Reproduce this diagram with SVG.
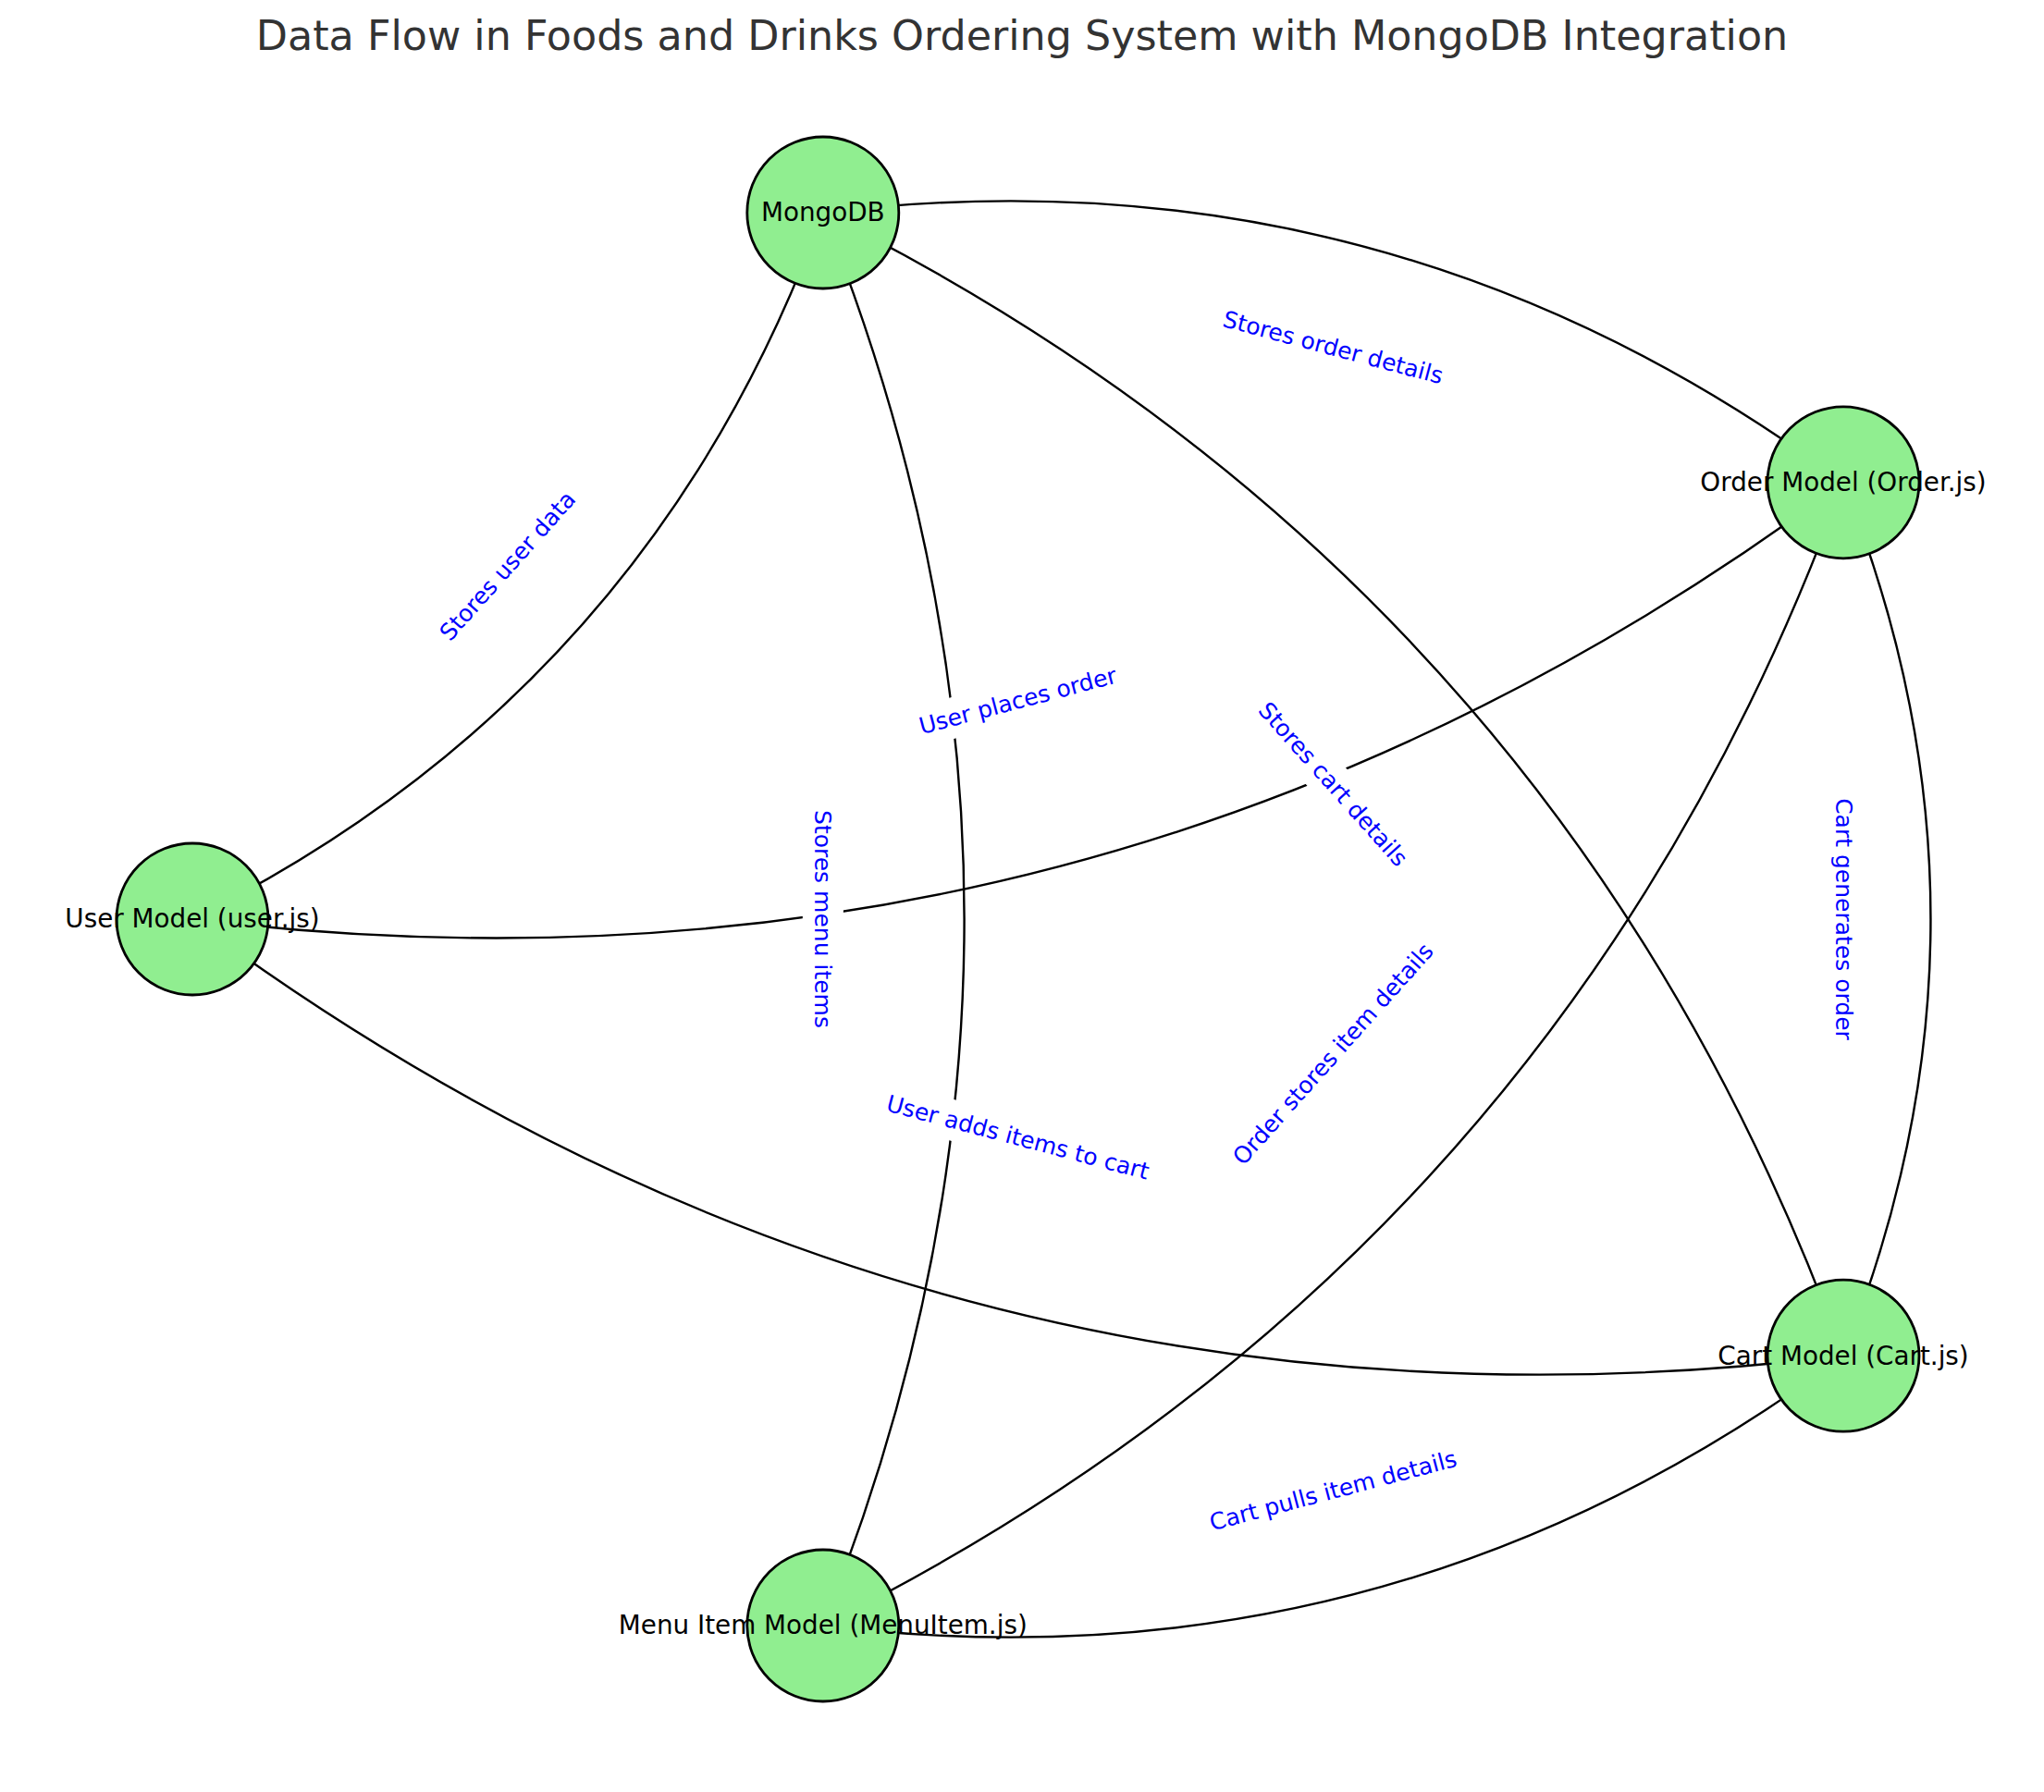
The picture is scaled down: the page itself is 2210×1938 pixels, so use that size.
<svg xmlns="http://www.w3.org/2000/svg" width="2210" height="1938" viewBox="0 0 2210 1938">
<style>
  .title { font-family: "DejaVu Sans", "Liberation Sans", sans-serif; font-size: 44.4px; fill: #333333; text-anchor: middle; }
  .edge { fill: none; stroke: #000000; stroke-width: 2.4; }
  .node circle { fill: #90EE90; stroke: #000000; stroke-width: 2.8; }
  .node text { font-family: "DejaVu Sans", "Liberation Sans", sans-serif; font-size: 27.8px; fill: #000000; text-anchor: middle; }
  .elabel rect { fill: #ffffff; stroke: #ffffff; stroke-width: 1; }
  .elabel text { font-family: "DejaVu Sans", "Liberation Sans", sans-serif; font-size: 25px; fill: #0000ff; text-anchor: middle; }
</style>
<rect x="0" y="0" width="2210" height="1938" fill="#ffffff"/>
<text class="title" x="1105" y="54">Data Flow in Foods and Drinks Ordering System with MongoDB Integration</text>

<g id="connectors">
  <path id="e-user-mongodb" class="edge" d="M208,994 Q701.7,748.4 889.8,230"/>
  <path id="e-order-mongodb" class="edge" d="M1993,521.8 Q1499.8,155.3 889.8,230"/>
  <path id="e-menu-mongodb" class="edge" d="M889.8,1758 Q1195.4,994 889.8,230"/>
  <path id="e-cart-mongodb" class="edge" d="M1993,1466.2 Q1688.6,627.5 889.8,230"/>
  <path id="e-user-order" class="edge" d="M208,994 Q1194.9,1114.9 1993,521.8"/>
  <path id="e-user-cart" class="edge" d="M208,994 Q1006.1,1587.1 1993,1466.2"/>
  <path id="e-cart-order" class="edge" d="M1993,1466.2 Q2181.9,994 1993,521.8"/>
  <path id="e-menu-order" class="edge" d="M889.8,1758 Q1688.6,1360.5 1993,521.8"/>
  <path id="e-menu-cart" class="edge" d="M889.8,1758 Q1499.8,1832.7 1993,1466.2"/>
</g>

<g id="node-mongodb" class="node">
  <circle cx="889.8" cy="230" r="82"/>
</g>
<g id="node-order" class="node">
  <circle cx="1993" cy="521.8" r="82"/>
</g>
<g id="node-user" class="node">
  <circle cx="208" cy="994" r="82"/>
</g>
<g id="node-cart" class="node">
  <circle cx="1993" cy="1466.2" r="82"/>
</g>
<g id="node-menu" class="node">
  <circle cx="889.8" cy="1758" r="82"/>
</g>

<g id="edge-labels">
  <g class="elabel" transform="translate(548.9,612) rotate(-48.25)">
    <rect x="-110.5" y="-21.5" width="221" height="43" rx="7.5"/>
    <text x="0" y="8.5">Stores user data</text>
  </g>
  <g class="elabel" transform="translate(1441.4,375.9) rotate(14.82)">
    <rect x="-130.5" y="-21.5" width="261" height="43" rx="7.5"/>
    <text x="0" y="8.5">Stores order details</text>
  </g>
  <g class="elabel" transform="translate(889.8,994) rotate(90)">
    <rect x="-125.75" y="-21.5" width="251.5" height="43" rx="7.5"/>
    <text x="0" y="8.5">Stores menu items</text>
  </g>
  <g class="elabel" transform="translate(1441.4,848.1) rotate(48.25)">
    <rect x="-121.5" y="-21.5" width="243" height="43" rx="7.5"/>
    <text x="0" y="8.5">Stores cart details</text>
  </g>
  <g class="elabel" transform="translate(1100.5,757.9) rotate(-14.82)">
    <rect x="-117.5" y="-21.5" width="235" height="43" rx="7.5"/>
    <text x="0" y="8.5">User places order</text>
  </g>
  <g class="elabel" transform="translate(1100.5,1230.1) rotate(14.82)">
    <rect x="-154" y="-21.5" width="308" height="43" rx="7.5"/>
    <text x="0" y="8.5">User adds items to cart</text>
  </g>
  <g class="elabel" transform="translate(1993,994) rotate(90)">
    <rect x="-138.5" y="-21.5" width="277" height="43" rx="7.5"/>
    <text x="0" y="8.5">Cart generates order</text>
  </g>
  <g class="elabel" transform="translate(1441.4,1139.9) rotate(-48.25)">
    <rect x="-163.5" y="-21.5" width="327" height="43" rx="7.5"/>
    <text x="0" y="8.5">Order stores item details</text>
  </g>
  <g class="elabel" transform="translate(1441.4,1612.1) rotate(-14.82)">
    <rect x="-145" y="-21.5" width="290" height="43" rx="7.5"/>
    <text x="0" y="8.5">Cart pulls item details</text>
  </g>
</g>

<g id="node-labels">
  <g id="label-mongodb" class="node"><text x="889.8" y="239.4">MongoDB</text></g>
  <g id="label-order" class="node"><text x="1993" y="531.2">Order Model (Order.js)</text></g>
  <g id="label-user" class="node"><text x="208" y="1003.4">User Model (user.js)</text></g>
  <g id="label-cart" class="node"><text x="1993" y="1475.6">Cart Model (Cart.js)</text></g>
  <g id="label-menu" class="node"><text x="889.8" y="1767.4">Menu Item Model (MenuItem.js)</text></g>
</g>
</svg>
